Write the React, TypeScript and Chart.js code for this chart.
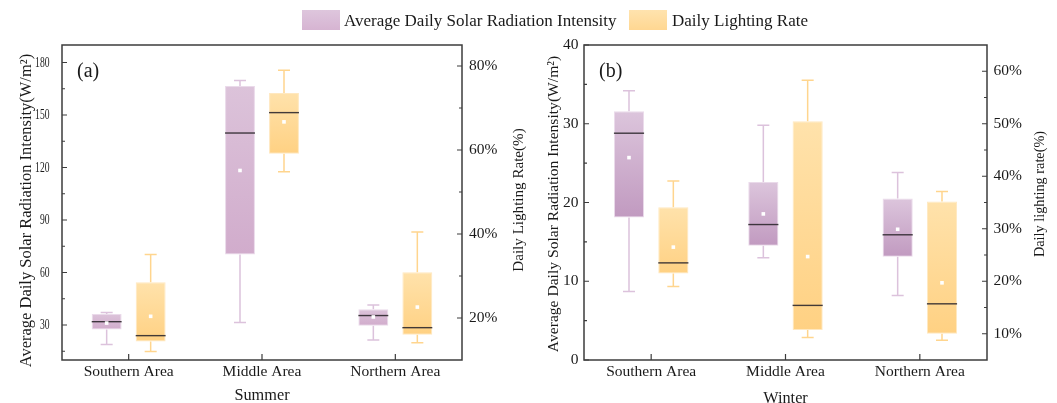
import React, { useEffect, useRef } from 'react';
import { Chart, registerables } from 'chart.js';

Chart.register(...registerables);

const FONT = '"Liberation Serif", "Times New Roman", serif';
const TEXT = '#1a1a1a';
const AXIS = '#3c3c3c';

const CATEGORIES = ['Southern Area', 'Middle Area', 'Northern Area'];

// Summer – average daily solar radiation intensity (W/m²)
const SUMMER_RAD_MIN = [18.8, 31.4, 21.4];
const SUMMER_RAD_Q1 = [27.4, 70.3, 29.6];
const SUMMER_RAD_MEDIAN = [31.9, 139.7, 35.4];
const SUMMER_RAD_Q3 = [36.3, 166.6, 39.0];
const SUMMER_RAD_MAX = [37.1, 169.7, 41.5];
const SUMMER_RAD_MEAN = [31.1, 118.3, 34.6];

// Summer – daily lighting rate (%)
const SUMMER_LIGHT_MIN = [12.0, 54.8, 14.1];
const SUMMER_LIGHT_Q1 = [14.4, 59.1, 16.0];
const SUMMER_LIGHT_MEDIAN = [15.8, 68.9, 17.7];
const SUMMER_LIGHT_Q3 = [28.5, 73.6, 30.9];
const SUMMER_LIGHT_MAX = [35.1, 79.0, 40.5];
const SUMMER_LIGHT_MEAN = [20.4, 66.7, 22.6];

// Winter – average daily solar radiation intensity (W/m²)
const WINTER_RAD_MIN = [8.7, 13.0, 8.2];
const WINTER_RAD_Q1 = [18.1, 14.5, 13.1];
const WINTER_RAD_MEDIAN = [28.8, 17.2, 15.9];
const WINTER_RAD_Q3 = [31.6, 22.6, 20.5];
const WINTER_RAD_MAX = [34.2, 29.8, 23.8];
const WINTER_RAD_MEAN = [25.7, 18.55, 16.6];

// Winter – daily lighting rate (%)
const WINTER_LIGHT_MIN = [19.0, 9.3, 8.75];
const WINTER_LIGHT_Q1 = [21.5, 10.7, 10.0];
const WINTER_LIGHT_MEDIAN = [23.5, 15.4, 15.7];
const WINTER_LIGHT_Q3 = [34.1, 50.5, 35.2];
const WINTER_LIGHT_MAX = [39.1, 58.3, 37.1];
const WINTER_LIGHT_MEAN = [26.5, 24.7, 19.7];

// Tick labels / axis ranges
const SUMMER_RAD_TICKS = [30, 60, 90, 120, 150, 180];
const SUMMER_RAD_RANGE = [10, 190];
const SUMMER_LIGHT_TICKS = [20, 40, 60, 80];
const SUMMER_LIGHT_RANGE = [10, 85];
const WINTER_RAD_TICKS = [0, 10, 20, 30, 40];
const WINTER_RAD_RANGE = [0, 40];
const WINTER_LIGHT_TICKS = [10, 20, 30, 40, 50, 60];
const WINTER_LIGHT_RANGE = [5, 65];

const LEGEND_LABELS = ['Average Daily Solar Radiation Intensity', 'Daily Lighting Rate'];

type Stats = { min: number[]; q1: number[]; median: number[]; q3: number[]; max: number[]; mean: number[] };

const decorPlugin = {
  id: 'decor',
  beforeDatasetsDraw(chart: any, _a: any, opts: any) {
    const ctx = chart.ctx;
    (opts.series || []).forEach((s: any, di: number) => {
      const meta = chart.getDatasetMeta(di);
      const scale = chart.scales[s.axis];
      ctx.save();
      ctx.strokeStyle = s.whisker;
      ctx.lineWidth = 1.5;
      meta.data.forEach((bar: any, j: number) => {
        const x = bar.x;
        const yMax = scale.getPixelForValue(s.stats.max[j]);
        const yQ3 = scale.getPixelForValue(s.stats.q3[j]);
        const yQ1 = scale.getPixelForValue(s.stats.q1[j]);
        const yMin = scale.getPixelForValue(s.stats.min[j]);
        ctx.beginPath();
        ctx.moveTo(x, yQ3);
        ctx.lineTo(x, yMax);
        ctx.moveTo(x - 6, yMax);
        ctx.lineTo(x + 6, yMax);
        ctx.moveTo(x, yQ1);
        ctx.lineTo(x, yMin);
        ctx.moveTo(x - 6, yMin);
        ctx.lineTo(x + 6, yMin);
        ctx.stroke();
      });
      ctx.restore();
    });
  },
  afterDatasetsDraw(chart: any, _a: any, opts: any) {
    const ctx = chart.ctx;
    (opts.series || []).forEach((s: any, di: number) => {
      const meta = chart.getDatasetMeta(di);
      const scale = chart.scales[s.axis];
      ctx.save();
      meta.data.forEach((bar: any, j: number) => {
        const x = bar.x;
        const w = bar.width;
        const yMed = scale.getPixelForValue(s.stats.median[j]);
        ctx.strokeStyle = 'rgba(45,40,45,0.9)';
        ctx.lineWidth = 1.4;
        ctx.beginPath();
        ctx.moveTo(x - w / 2, yMed);
        ctx.lineTo(x + w / 2, yMed);
        ctx.stroke();
        const yMean = scale.getPixelForValue(s.stats.mean[j]);
        ctx.fillStyle = '#ffffff';
        ctx.fillRect(x - 1.8, yMean - 1.8, 3.6, 3.6);
      });
      ctx.restore();
    });
  },
  afterDraw(chart: any, _a: any, opts: any) {
    const ctx = chart.ctx;
    const { left, right, top, bottom } = chart.chartArea;
    ctx.save();
    ctx.strokeStyle = AXIS;
    ctx.lineWidth = 1.5;
    ctx.strokeRect(left, top, right - left, bottom - top);
    ctx.lineWidth = 1.2;
    ctx.beginPath();
    chart.scales.x.ticks.forEach((_t: any, i: number) => {
      const x = chart.scales.x.getPixelForTick(i);
      ctx.moveTo(x, bottom);
      ctx.lineTo(x, bottom - 6);
    });
    const drawY = (id: string, dir: number, base: number) => {
      const sc = chart.scales[id];
      const vals = sc.ticks.map((t: any) => t.value);
      vals.forEach((v: number) => {
        const y = sc.getPixelForValue(v);
        ctx.moveTo(base, y);
        ctx.lineTo(base + dir * 5, y);
      });
      const step = vals[1] - vals[0];
      for (let v = vals[0] - step / 2; v < sc.max; v += step) {
        if (v <= sc.min || v >= sc.max) continue;
        const y = sc.getPixelForValue(v);
        ctx.moveTo(base, y);
        ctx.lineTo(base + dir * 3, y);
      }
    };
    drawY('y', 1, left);
    drawY('y1', -1, right);
    ctx.stroke();
    ctx.fillStyle = TEXT;
    // condensed tick labels for the left axis (when requested)
    if (opts.narrowLeft) {
      const sc = chart.scales.y;
      ctx.font = `15.5px ${FONT}`;
      ctx.textAlign = 'right';
      ctx.textBaseline = 'middle';
      sc.ticks.forEach((t: any) => {
        const y = sc.getPixelForValue(t.value);
        ctx.save();
        ctx.translate(left - opts.narrowLeft.pad, y);
        ctx.scale(opts.narrowLeft.sx, 1);
        ctx.fillText(String(t.value), 0, 0);
        ctx.restore();
      });
    }
    if (opts.panel) {
      ctx.font = `20px ${FONT}`;
      ctx.textBaseline = 'middle';
      ctx.textAlign = 'left';
      ctx.fillText(opts.panel, left + 15, top + 27);
    }
    (opts.yTitles || []).forEach((t: any) => {
      ctx.save();
      ctx.translate(t.x, t.y);
      ctx.rotate(-Math.PI / 2);
      ctx.font = `${t.size}px ${FONT}`;
      ctx.textAlign = 'center';
      ctx.textBaseline = 'alphabetic';
      ctx.fillText(t.text, 0, 0);
      ctx.restore();
    });
    ctx.restore();
  },
};

type Panel = {
  rad: Stats;
  light: Stats;
  radTicks: number[];
  radRange: number[];
  lightTicks: number[];
  lightRange: number[];
  purpleTop: string;
  purpleBottom: string;
  xTitle: string;
  xTitlePad: number;
  yTitles: { text: string; x: number; y: number; size: number }[];
  leftWidth: number;
  rightWidth: number;
  leftTickPad: number;
  rightTickPad: number;
  narrowLeft: { pad: number; sx: number } | null;
  panel: string;
};

const ORANGE_TOP = '#ffe2ab';
const ORANGE_BOTTOM = '#ffd183';

function gradientFill(axis: string, topC: string, botC: string) {
  return (c: any) => {
    const chart = c.chart;
    const scale = chart.scales[axis];
    const raw = c.raw;
    if (!scale || !Array.isArray(raw)) return topC;
    const y1 = scale.getPixelForValue(Math.max(raw[0], raw[1]));
    const y2 = scale.getPixelForValue(Math.min(raw[0], raw[1]));
    if (!isFinite(y1) || !isFinite(y2) || y1 === y2) return topC;
    const g = chart.ctx.createLinearGradient(0, y1, 0, y2);
    g.addColorStop(0, topC);
    g.addColorStop(1, botC);
    return g;
  };
}

function makeConfig(p: Panel): any {
  const font = { family: FONT, size: 15.5 };
  const titleFont = { family: FONT, size: 16.3 };
  return {
    type: 'bar',
    data: {
      labels: CATEGORIES,
      datasets: [
        {
          label: LEGEND_LABELS[0],
          yAxisID: 'y',
          data: CATEGORIES.map((_c, i) => [p.rad.q1[i], p.rad.q3[i]]),
          backgroundColor: gradientFill('y', p.purpleTop, p.purpleBottom),
          borderColor: 'rgba(232,214,232,0.9)',
          borderWidth: 1,
          borderSkipped: false,
          categoryPercentage: 0.66,
          barPercentage: 0.68,
        },
        {
          label: LEGEND_LABELS[1],
          yAxisID: 'y1',
          data: CATEGORIES.map((_c, i) => [p.light.q1[i], p.light.q3[i]]),
          backgroundColor: gradientFill('y1', ORANGE_TOP, ORANGE_BOTTOM),
          borderColor: 'rgba(255,230,185,0.9)',
          borderWidth: 1,
          borderSkipped: false,
          categoryPercentage: 0.66,
          barPercentage: 0.68,
        },
      ],
    },
    options: {
      responsive: false,
      animation: false,
      devicePixelRatio: 1,
      layout: { padding: { top: 45, left: 0, right: 0, bottom: 0 } },
      plugins: {
        legend: { display: false },
        tooltip: { enabled: false },
        decor: {
          panel: p.panel,
          yTitles: p.yTitles,
          narrowLeft: p.narrowLeft,
          series: [
            { axis: 'y', stats: p.rad, whisker: '#dcc2dc' },
            { axis: 'y1', stats: p.light, whisker: '#ffd58e' },
          ],
        },
      },
      scales: {
        x: {
          type: 'category',
          offset: true,
          grid: { display: false, drawTicks: false },
          border: { display: false },
          ticks: { font, color: TEXT, padding: 2.5, maxRotation: 0, autoSkip: false },
          title: { display: true, text: p.xTitle, font: titleFont, color: TEXT, padding: { top: 0, bottom: p.xTitlePad } },
          afterFit: (s: any) => {
            s.height = 43;
          },
        },
        y: {
          type: 'linear',
          position: 'left',
          min: p.radRange[0],
          max: p.radRange[1],
          afterBuildTicks: (s: any) => {
            s.ticks = p.radTicks.map((v) => ({ value: v }));
          },
          grid: { display: false, drawTicks: false },
          border: { display: false },
          ticks: { display: !p.narrowLeft, font, color: TEXT, padding: p.leftTickPad },
          afterFit: (s: any) => {
            s.width = p.leftWidth;
          },
        },
        y1: {
          type: 'linear',
          position: 'right',
          min: p.lightRange[0],
          max: p.lightRange[1],
          afterBuildTicks: (s: any) => {
            s.ticks = p.lightTicks.map((v) => ({ value: v }));
          },
          grid: { display: false, drawTicks: false },
          border: { display: false },
          ticks: { font, color: TEXT, padding: p.rightTickPad, callback: (v: any) => `${v}%` },
          afterFit: (s: any) => {
            s.width = p.rightWidth;
          },
        },
      },
    },
    plugins: [decorPlugin],
  };
}

const SUMMER: Panel = {
  rad: { min: SUMMER_RAD_MIN, q1: SUMMER_RAD_Q1, median: SUMMER_RAD_MEDIAN, q3: SUMMER_RAD_Q3, max: SUMMER_RAD_MAX, mean: SUMMER_RAD_MEAN },
  light: { min: SUMMER_LIGHT_MIN, q1: SUMMER_LIGHT_Q1, median: SUMMER_LIGHT_MEDIAN, q3: SUMMER_LIGHT_Q3, max: SUMMER_LIGHT_MAX, mean: SUMMER_LIGHT_MEAN },
  radTicks: SUMMER_RAD_TICKS,
  radRange: SUMMER_RAD_RANGE,
  lightTicks: SUMMER_LIGHT_TICKS,
  lightRange: SUMMER_LIGHT_RANGE,
  purpleTop: '#dcc3da',
  purpleBottom: '#d1accc',
  xTitle: 'Summer',
  xTitlePad: -2.1,
  yTitles: [
    { text: 'Average Daily Solar Radiation Intensity(W/m²)', x: 30.7, y: 210.5, size: 16.5 },
    { text: 'Daily Lighting Rate(%)', x: 522.7, y: 200, size: 15.1 },
  ],
  leftWidth: 62,
  rightWidth: 66,
  leftTickPad: 12,
  rightTickPad: 7,
  narrowLeft: { pad: 12.5, sx: 0.62 },
  panel: '(a)',
};

const WINTER: Panel = {
  rad: { min: WINTER_RAD_MIN, q1: WINTER_RAD_Q1, median: WINTER_RAD_MEDIAN, q3: WINTER_RAD_Q3, max: WINTER_RAD_MAX, mean: WINTER_RAD_MEAN },
  light: { min: WINTER_LIGHT_MIN, q1: WINTER_LIGHT_Q1, median: WINTER_LIGHT_MEDIAN, q3: WINTER_LIGHT_Q3, max: WINTER_LIGHT_MAX, mean: WINTER_LIGHT_MEAN },
  radTicks: WINTER_RAD_TICKS,
  radRange: WINTER_RAD_RANGE,
  lightTicks: WINTER_LIGHT_TICKS,
  lightRange: WINTER_LIGHT_RANGE,
  purpleTop: '#dcc5dc',
  purpleBottom: '#c19ac0',
  xTitle: 'Winter',
  xTitlePad: -5.4,
  yTitles: [
    { text: 'Average Daily Solar Radiation Intensity(W/m²)', x: 30.3, y: 204, size: 15.6 },
    { text: 'Daily lighting rate(%)', x: 515.5, y: 194, size: 14.3 },
  ],
  leftWidth: 56,
  rightWidth: 70,
  leftTickPad: 5.5,
  rightTickPad: 6.5,
  narrowLeft: null,
  panel: '(b)',
};

export default function App() {
  const c1 = useRef<HTMLCanvasElement>(null);
  const c2 = useRef<HTMLCanvasElement>(null);
  useEffect(() => {
    const ch1 = new Chart(c1.current as HTMLCanvasElement, makeConfig(SUMMER));
    const ch2 = new Chart(c2.current as HTMLCanvasElement, makeConfig(WINTER));
    return () => {
      ch1.destroy();
      ch2.destroy();
    };
  }, []);

  const legendText: React.CSSProperties = {
    position: 'absolute',
    top: 11,
    height: 20,
    lineHeight: '20px',
    fontFamily: FONT,
    fontSize: 17,
    color: TEXT,
    whiteSpace: 'nowrap',
  };

  return (
    <div style={{ position: 'fixed', left: 0, top: 0, width: 1057, height: 403, background: '#fff', overflow: 'hidden' }}>
      <canvas ref={c1} width={528} height={403} style={{ position: 'absolute', left: 0, top: 0, width: 528, height: 403 }} />
      <canvas ref={c2} width={529} height={403} style={{ position: 'absolute', left: 528, top: 0, width: 529, height: 403 }} />
      <div style={{ position: 'absolute', left: 302, top: 10, width: 38, height: 20, background: 'linear-gradient(#dec6dd, #d6b4d2)' }} />
      <div style={{ ...legendText, left: 344 }}>{LEGEND_LABELS[0]}</div>
      <div style={{ position: 'absolute', left: 629, top: 10, width: 38, height: 20, background: 'linear-gradient(#ffe3ae, #ffd792)' }} />
      <div style={{ ...legendText, left: 672 }}>{LEGEND_LABELS[1]}</div>
    </div>
  );
}
